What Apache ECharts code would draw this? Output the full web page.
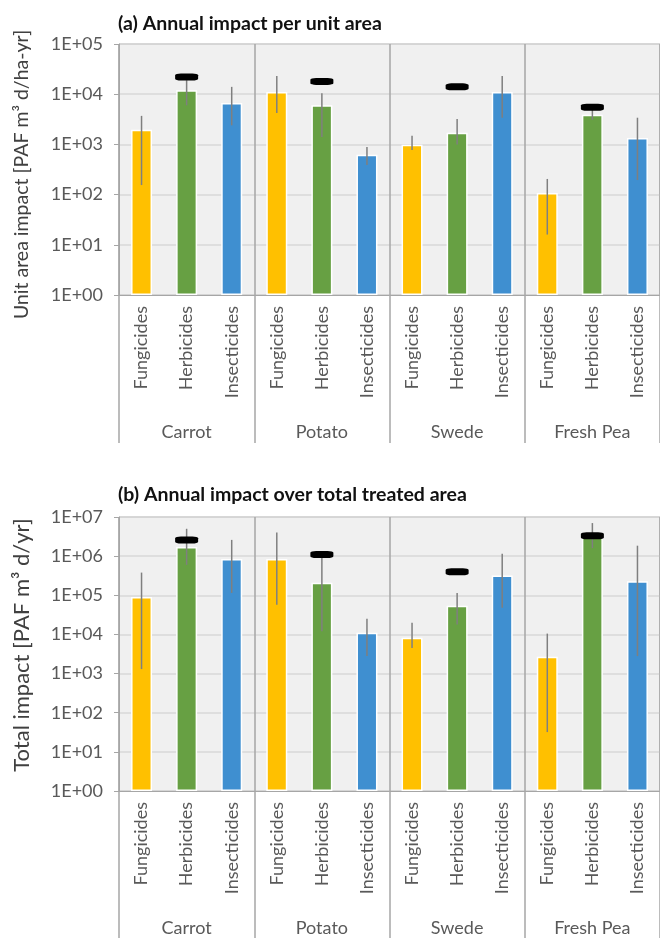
<!DOCTYPE html>
<html>
<head>
<meta charset="utf-8">
<script src="https://cdn.jsdelivr.net/npm/echarts@6/dist/echarts.min.js"></script>
<style>
  html, body { margin: 0; padding: 0; background: #fff; }
  #chart { width: 660px; height: 938px; }
</style>
</head>
<body>
<div id="chart"></div>
<script>
// Crops and pesticide groups along the x axis
const cropNames = ['Carrot', 'Potato', 'Swede', 'Fresh Pea'];
const pesticideTypes = ['Fungicides', 'Herbicides', 'Insecticides'];

// (a) Annual impact per unit area [PAF m3 d/ha-yr]
const unitAreaMean   = [1950, 12000, 6700, 11000, 6000, 620, 980, 1700, 11000, 108, 3900, 1340];
const unitAreaLow    = [155, 6000, 2400, 4200, 1400, 390, 770, 1000, 3400, 16, 3100, 195];
const unitAreaHigh   = [3700, 19000, 14000, 23000, 10500, 890, 1480, 3200, 23000, 205, 4900, 3400];
const unitAreaMarker = [null, 22000, null, null, 18000, null, null, 14000, null, null, 5500, null];

// (b) Annual impact over total treated area [PAF m3 d/yr]
const totalMean   = [91000, 1700000, 850000, 850000, 210000, 11000, 8200, 54000, 320000, 2700, 3100000, 230000];
const totalLow    = [1300, 600000, 115000, 57000, 12000, 2800, 4500, 18000, 48000, 32, 1600000, 2800];
const totalHigh   = [380000, 5000000, 2600000, 4000000, 900000, 25000, 20000, 115000, 1150000, 10500, 7000000, 1850000];
const totalMarker = [null, 2600000, null, null, 1100000, null, null, 400000, null, null, 3300000, null];

// Tick labels for the log axes
const unitAreaTicks = ['1E+00', '1E+01', '1E+02', '1E+03', '1E+04', '1E+05'];
const totalTicks    = ['1E+00', '1E+01', '1E+02', '1E+03', '1E+04', '1E+05', '1E+06', '1E+07'];

const typeColors = ['#FFC000', '#67A043', '#3F8FD0'];
const fontFamily = 'Lato';
const axisGrey = '#a6a6a6';
const labelGrey = '#595959';

const subCategories = cropNames.flatMap(() => pesticideTypes);

function barData(values) {
  return values.map((v, i) => ({
    value: v,
    itemStyle: { color: typeColors[i % pesticideTypes.length] }
  }));
}
function rangeData(low, high) {
  return low.map((l, i) => [i, l, high[i]]);
}
function markerData(values) {
  const out = [];
  values.forEach((v, i) => { if (v !== null) out.push([i, v]); });
  return out;
}

// Vertical whisker from the low value to the high value
function renderRange(params, api) {
  const top = api.coord([api.value(0), api.value(2)]);
  const bottom = api.coord([api.value(0), api.value(1)]);
  return {
    type: 'line',
    shape: { x1: top[0], y1: top[1], x2: bottom[0], y2: bottom[1] },
    style: { stroke: '#7f7f7f', lineWidth: 1.5 }
  };
}

const grids = [
  { left: 119, top: 44, width: 548, height: 251 },
  { left: 119, top: 517, width: 548, height: 274 }
];

function subAxis(gridIndex) {
  return {
    type: 'category', gridIndex, data: subCategories,
    axisLine: { show: true, lineStyle: { color: axisGrey, width: 1 } },
    axisTick: { show: false },
    axisLabel: { rotate: 90, margin: 11, color: labelGrey, fontSize: 18, fontFamily, interval: 0 },
    splitLine: { show: false }
  };
}
function groupAxis(gridIndex) {
  return {
    type: 'category', gridIndex, data: cropNames, position: 'bottom',
    axisLine: { show: false },
    axisTick: { show: true, length: 148, interval: 0, lineStyle: { color: axisGrey, width: 1.5 } },
    axisLabel: { margin: 128, color: labelGrey, fontSize: 18, fontFamily, interval: 0 },
    splitLine: { show: true, interval: 0, lineStyle: { color: axisGrey, width: 1.5 } }
  };
}
function logAxis(gridIndex, max, ticks, name, nameSize, nameGap, namePadding) {
  return {
    type: 'log', logBase: 10, gridIndex, min: 1, max, interval: 1,
    name, nameLocation: 'middle', nameGap,
    nameTextStyle: { fontSize: nameSize, color: '#404040', fontFamily, padding: namePadding },
    axisLine: { show: true, lineStyle: { color: axisGrey, width: 1 } },
    axisTick: { show: true, length: 5, lineStyle: { color: axisGrey } },
    axisLabel: {
      margin: 16, color: labelGrey, fontSize: 18, fontFamily,
      formatter: v => ticks[Math.round(Math.log10(v))]
    },
    splitLine: { show: true, lineStyle: { color: '#d9d9d9', width: 1.5 } }
  };
}

function panelSeries(xIndex, yIndex, mean, low, high, marker) {
  return [
    {
      type: 'bar', xAxisIndex: xIndex, yAxisIndex: yIndex,
      data: barData(mean), barWidth: 21,
      itemStyle: { borderColor: '#ffffff', borderWidth: 1.5 },
      z: 2
    },
    {
      type: 'custom', xAxisIndex: xIndex, yAxisIndex: yIndex,
      data: rangeData(low, high), renderItem: renderRange,
      encode: { x: 0, y: [1, 2] }, z: 3
    },
    {
      type: 'scatter', xAxisIndex: xIndex, yAxisIndex: yIndex,
      data: markerData(marker), symbol: 'roundRect', symbolSize: [23, 7],
      itemStyle: { color: '#000000', opacity: 1, borderWidth: 0 }, z: 4
    }
  ];
}

const chart = echarts.init(document.getElementById('chart'), null, { renderer: 'canvas' });
chart.setOption({
  animation: false,
  textStyle: { fontFamily },
  title: [
    { text: '(a) Annual impact per unit area', left: 113, top: 9,
      textStyle: { fontSize: 19.5, fontWeight: 'bold', color: '#111111', fontFamily } },
    { text: '(b) Annual impact over total treated area', left: 113, top: 480,
      textStyle: { fontSize: 19.5, fontWeight: 'bold', color: '#111111', fontFamily } }
  ],
  grid: grids.map(g => Object.assign({ show: true, backgroundColor: '#f0f0f0', borderColor: axisGrey, borderWidth: 1 }, g)),
  xAxis: [subAxis(0), groupAxis(0), subAxis(1), groupAxis(1)],
  yAxis: [
    logAxis(0, 100000, unitAreaTicks, 'Unit area impact [PAF m\u00B3 d/ha-yr]', 19.5, 87, [0, 10, 0, 0]),
    logAxis(1, 10000000, totalTicks, 'Total impact [PAF m\u00B3 d/yr]', 22, 86, [0, 0, 0, 18])
  ],
  series: [
    ...panelSeries(0, 0, unitAreaMean, unitAreaLow, unitAreaHigh, unitAreaMarker),
    ...panelSeries(2, 1, totalMean, totalLow, totalHigh, totalMarker)
  ]
});
</script>
</body>
</html>
